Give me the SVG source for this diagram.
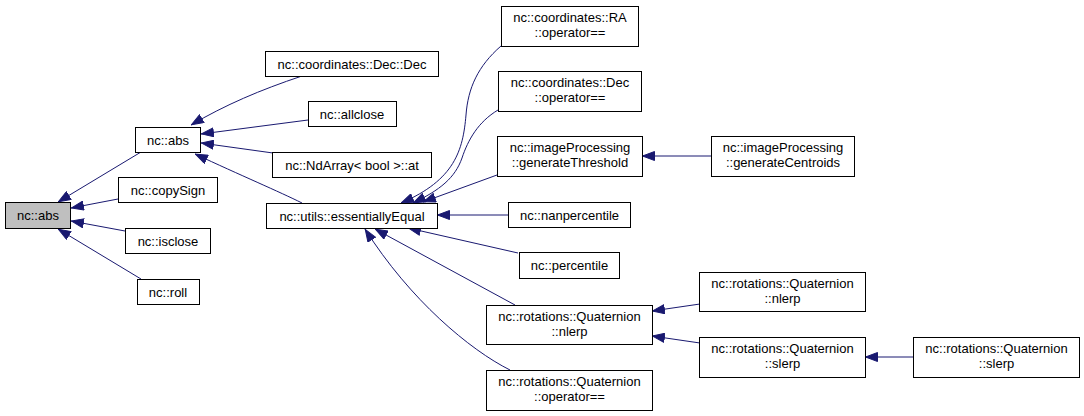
<svg xmlns="http://www.w3.org/2000/svg" width="1084" height="416" viewBox="0 0 1084 416">
<defs>
<marker id="ah" viewBox="0 0 13 10" refX="13" refY="5" markerWidth="13" markerHeight="10" markerUnits="userSpaceOnUse" orient="auto">
<path d="M0.5,0.5 L12.5,5 L0.5,9.5 Z" fill="#191970" stroke="#191970" stroke-width="1"/>
</marker>
</defs>
<style>
rect{fill:#fff;stroke:#000;stroke-width:1}
.root rect{fill:#bfbfbf}
text{font-family:"Liberation Sans",Arial,sans-serif;font-size:13px;fill:#000;text-anchor:middle}
.e path{fill:none;stroke:#191970;stroke-width:1;marker-end:url(#ah)}
</style>
<rect x="0" y="0" width="1084" height="416" style="fill:#fff;stroke:none"/>
<g class="e" id="connectors">
<path d="M141,152 L58,202"/>
<path d="M118,199 L71,208"/>
<path d="M125,231 L71,221"/>
<path d="M141,279 L58,229"/>
<path d="M302,76 C260,90 225,105 191,125"/>
<path d="M308,120 L201,134"/>
<path d="M273,153 L201,143"/>
<path d="M302,203 C280,192 240,175 195,154"/>
<path d="M501,46 C478,66 468,88 466,115 C463,150 455,180 401,203"/>
<path d="M498,110 C478,122 468,140 462,158 C455,178 440,190 413,203"/>
<path d="M497,175 L423,202"/>
<path d="M711,156 L642,156"/>
<path d="M508,215 L437,215"/>
<path d="M518,253 L408,228"/>
<path d="M515,305 L375,229"/>
<path d="M510,370 C470,350 410,300 365,229"/>
<path d="M700,304 L652,311"/>
<path d="M700,343 L652,336"/>
<path d="M913,357 L865,357"/>
</g>
<g id="n1" class="root"><rect x="5.5" y="202.5" width="65" height="26"/><text x="38" y="220">nc::abs</text></g>
<g id="n2"><rect x="135.5" y="127.5" width="65" height="25"/><text x="168" y="144.5">nc::abs</text></g>
<g id="n3"><rect x="118.5" y="177.5" width="99" height="25"/><text x="168" y="194.5">nc::copySign</text></g>
<g id="n4"><rect x="125.5" y="228.5" width="85" height="25"/><text x="168" y="245.5">nc::isclose</text></g>
<g id="n5"><rect x="137.5" y="279.5" width="62" height="25"/><text x="168" y="296.5">nc::roll</text></g>
<g id="n6"><rect x="265.5" y="51.5" width="173" height="25"/><text x="352" y="68.5">nc::coordinates::Dec::Dec</text></g>
<g id="n7"><rect x="308.5" y="101.5" width="88" height="25"/><text x="352" y="118.5">nc::allclose</text></g>
<g id="n8"><rect x="272.5" y="152.5" width="159" height="25"/><text x="352" y="169.5">nc::NdArray&lt; bool &gt;::at</text></g>
<g id="n9"><rect x="266.5" y="203.5" width="171" height="25"/><text x="352" y="220.5">nc::utils::essentiallyEqual</text></g>
<g id="n10"><rect x="501.5" y="6.5" width="137" height="40"/><text x="570" y="22">nc::coordinates::RA</text><text x="570" y="37">::operator==</text></g>
<g id="n11"><rect x="498.5" y="71.5" width="143" height="40"/><text x="570" y="87">nc::coordinates::Dec</text><text x="570" y="102">::operator==</text></g>
<g id="n12"><rect x="497.5" y="136.5" width="145" height="40"/><text x="570" y="152">nc::imageProcessing</text><text x="570" y="167">::generateThreshold</text></g>
<g id="n13"><rect x="508.5" y="202.5" width="122" height="25"/><text x="569.5" y="219.5">nc::nanpercentile</text></g>
<g id="n14"><rect x="519.5" y="252.5" width="100" height="26"/><text x="569.5" y="270">nc::percentile</text></g>
<g id="n15"><rect x="486.5" y="305.5" width="166" height="39"/><text x="569.5" y="321">nc::rotations::Quaternion</text><text x="569.5" y="336">::nlerp</text></g>
<g id="n16"><rect x="486.5" y="370.5" width="166" height="40"/><text x="569.5" y="386">nc::rotations::Quaternion</text><text x="569.5" y="401">::operator==</text></g>
<g id="n17"><rect x="711.5" y="136.5" width="143" height="40"/><text x="783" y="152">nc::imageProcessing</text><text x="783" y="167">::generateCentroids</text></g>
<g id="n18"><rect x="699.5" y="272.5" width="166" height="39"/><text x="782.5" y="288">nc::rotations::Quaternion</text><text x="782.5" y="303">::nlerp</text></g>
<g id="n19"><rect x="699.5" y="337.5" width="166" height="40"/><text x="782.5" y="353">nc::rotations::Quaternion</text><text x="782.5" y="368">::slerp</text></g>
<g id="n20"><rect x="913.5" y="337.5" width="166" height="40"/><text x="996.5" y="353">nc::rotations::Quaternion</text><text x="996.5" y="368">::slerp</text></g>
</svg>
